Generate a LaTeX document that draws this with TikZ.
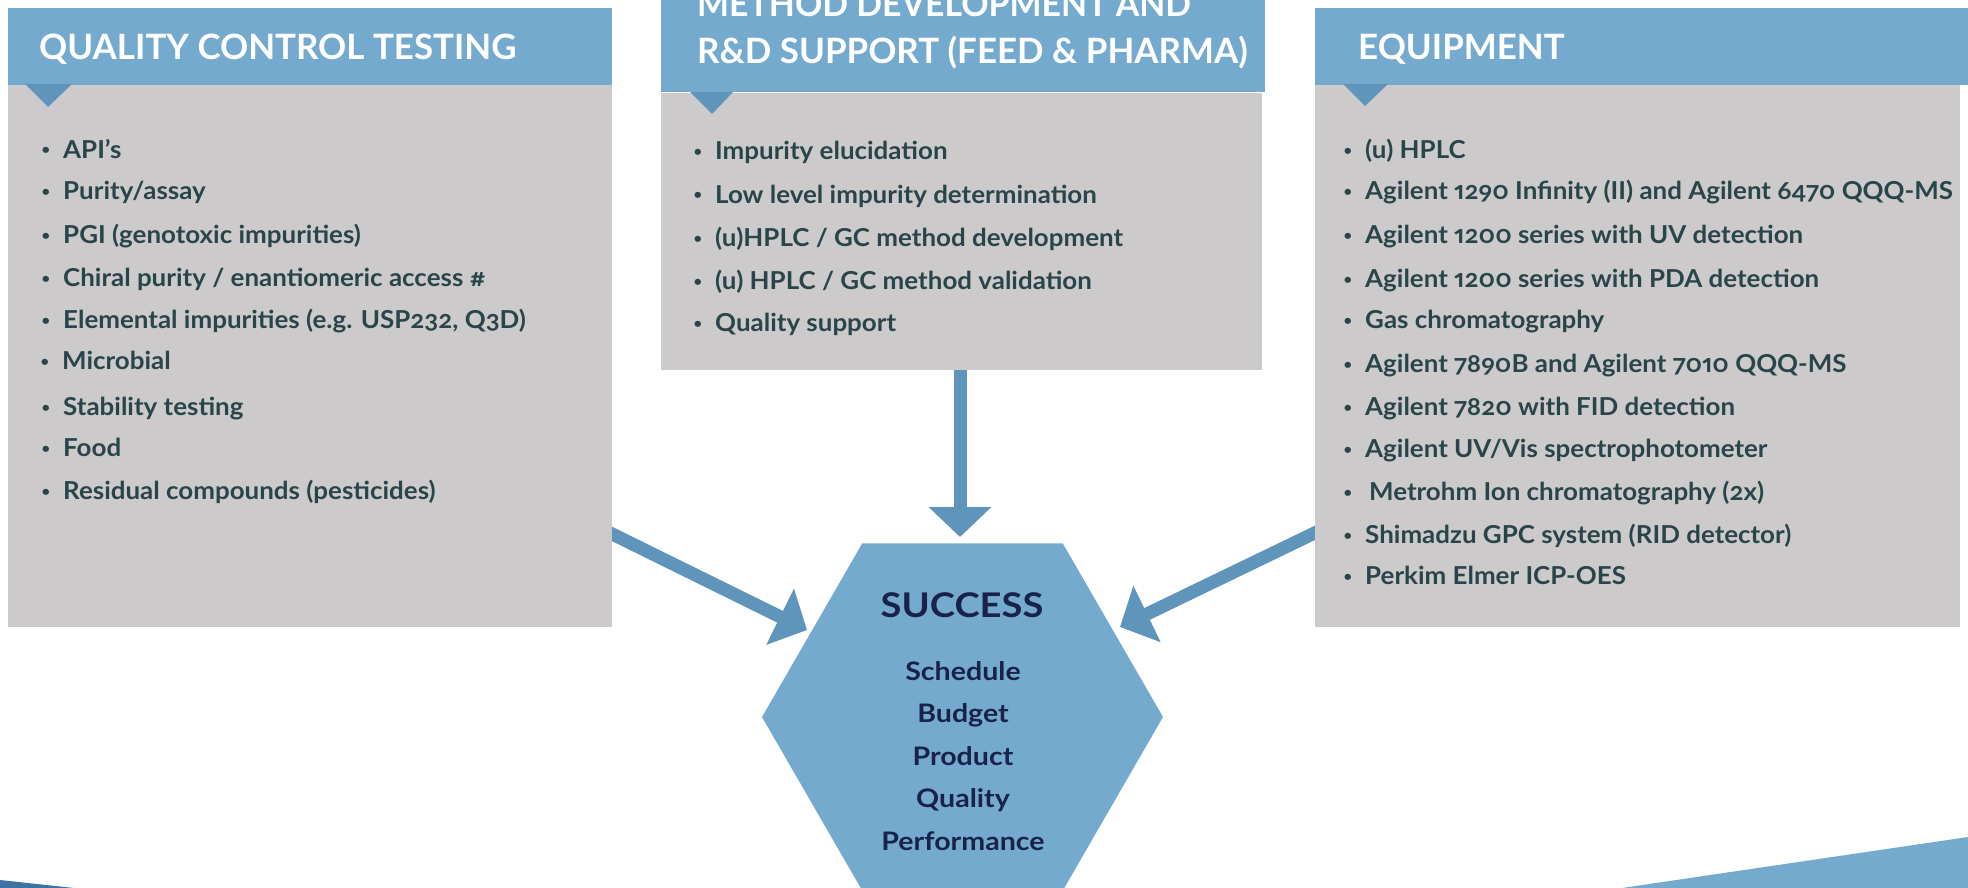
\documentclass[tikz,border=0pt]{standalone}
\usepackage{fontspec}
\setmainfont{Lato}
\newfontfamily\listfont{Lato}[FakeStretch=1.05,Numbers={OldStyle,Proportional}]
\newfontfamily\hexfont{Lato}[FakeStretch=1.12]
\usetikzlibrary{arrows.meta,shapes.geometric}
\definecolor{headblue}{HTML}{75AACF}
\definecolor{arrowblue}{HTML}{5F95BA}
\definecolor{boxgray}{HTML}{CCCACB}
\definecolor{listtext}{HTML}{2A4549}
\definecolor{navytext}{HTML}{18224A}
\definecolor{wedgeblue}{HTML}{3D72A4}
\pgfdeclarelayer{bg}
\pgfsetlayers{bg,main}
\newcommand{\bul}{\llap{\raisebox{3pt}{\fontsize{14}{14}\selectfont •}\hspace{13pt}}}
\tikzset{
  graybox/.style={rectangle, fill=boxgray, inner sep=0, anchor=north west},
  headbox/.style={rectangle, fill=headblue, inner sep=0, anchor=north west},
  titletxt/.style={anchor=base west, inner sep=0, text=white},
  itemtxt/.style={anchor=base west, inner sep=0, text=listtext, font=\listfont\bfseries\fontsize{24.7}{28}\selectfont},
  hextxt/.style={anchor=base, inner sep=0, text=navytext, font=\hexfont\bfseries\fontsize{25.5}{28}\selectfont},
  hexa/.style={regular polygon, regular polygon sides=6, minimum size=401pt, inner sep=0, fill=headblue},
  bigarrow/.style={line width=13pt, draw=arrowblue, -{Triangle[width=61pt,length=30pt]}},
  notch/.style={fill=arrowblue}
}
\begin{document}
\begin{tikzpicture}[x=1pt,y=-1pt]
\useasboundingbox (0,0) rectangle (1968,888);
% bottom decorations
\fill[wedgeblue] (0,880) -- (74,888) -- (0,888) -- cycle;
\fill[headblue] (1622,888) -- (1968,837) -- (1968,888) -- cycle;
% boxes
\node[graybox, minimum width=604pt, minimum height=542pt] (qc) at (8,85) {};
\node[headbox, minimum width=604pt, minimum height=77pt] (qchead) at (8,8) {};
\node[graybox, minimum width=601pt, minimum height=277pt] (md) at (661,93) {};
\node[headbox, minimum width=604pt, minimum height=119pt] (mdhead) at (661,-27) {};
\node[graybox, minimum width=645pt, minimum height=542pt] (eq) at (1315,85) {};
\node[headbox, minimum width=653pt, minimum height=77pt] (eqhead) at (1315,8) {};
% notches
\fill[notch] (25,84) -- (72,84) -- (48,107) -- cycle;
\fill[notch] (690,92) -- (733,92) -- (712,114) -- cycle;
\fill[notch] (1343,84) -- (1388,84) -- (1365,106) -- cycle;
% titles
\node[titletxt, font=\bfseries\fontsize{34.9}{40}\selectfont] (qctitle) at (39,60) {QUALITY CONTROL TESTING};
\node[titletxt, font=\bfseries\fontsize{34.9}{40}\selectfont] (mdtitle1) at (697,17) {\scalebox{0.97}[1]{METHOD DEVELOPMENT AND}};
\node[titletxt, font=\bfseries\fontsize{34.9}{40}\selectfont] (mdtitle2) at (697,64) {R\&D SUPPORT (FEED \& PHARMA)};
\node[titletxt, font=\bfseries\fontsize{34.9}{40}\selectfont] (eqtitle) at (1358,60) {EQUIPMENT};
% left list
\node[itemtxt] (qc1) at (63,158) {\bul API’s};
\node[itemtxt] (qc2) at (63,200) {\bul Purity/assay};
\node[itemtxt] (qc3) at (63,243) {\bul PGI (genotoxic impurities)};
\node[itemtxt] (qc4) at (63,286) {\bul Chiral purity / enantiomeric access \#};
\node[itemtxt] (qc5) at (63,328) {\bul Elemental impurities (e.g. USP232, Q3D)};
\node[itemtxt] (qc6) at (62,369) {\bul Microbial};
\node[itemtxt] (qc7) at (63,415) {\bul Stability testing};
\node[itemtxt] (qc8) at (63,456) {\bul Food};
\node[itemtxt] (qc9) at (63,499) {\bul Residual compounds (pesticides)};
% middle list
\node[itemtxt] (md1) at (715,160) {\bul Impurity elucidation};
\node[itemtxt] (md2) at (715,203) {\bul Low level impurity determination};
\node[itemtxt] (md3) at (715,246) {\bul (u)HPLC / GC method development};
\node[itemtxt] (md4) at (715,289) {\bul (u) HPLC / GC method validation};
\node[itemtxt] (md5) at (715,331) {\bul Quality support};
% right list
\node[itemtxt] (eq1) at (1365,159) {\bul (u) HPLC};
\node[itemtxt] (eq2) at (1365,200) {\bul Agilent 1290 Infinity (II) and Agilent 6470 QQQ-MS};
\node[itemtxt] (eq3) at (1365,243) {\bul Agilent 1200 series with UV detection};
\node[itemtxt] (eq4) at (1365,287) {\bul Agilent 1200 series with PDA detection};
\node[itemtxt] (eq5) at (1365,328) {\bul Gas chromatography};
\node[itemtxt] (eq6) at (1365,372) {\bul Agilent 7890B and Agilent 7010 QQQ-MS};
\node[itemtxt] (eq7) at (1365,415) {\bul Agilent 7820 with FID detection};
\node[itemtxt] (eq8) at (1365,457) {\bul Agilent UV/Vis spectrophotometer};
\node[itemtxt] (eq9) at (1369,500) {\hspace{-4pt}\bul\hspace{4pt}Metrohm Ion chromatography (2x)};
\node[itemtxt] (eq10) at (1365,543) {\bul Shimadzu GPC system (RID detector)};
\node[itemtxt] (eq11) at (1365,584) {\bul Perkim Elmer ICP-OES};
% hexagon
\node[hexa] (succ) at (962.5,717) {};
\node[hextxt, font=\hexfont\bfseries\fontsize{34}{40}\selectfont] (succtitle) at (962,617) {SUCCESS};
\node[hextxt] (s1) at (963,680) {Schedule};
\node[hextxt] (s2) at (963,722) {Budget};
\node[hextxt] (s3) at (963,765) {Product};
\node[hextxt] (s4) at (963,807) {Quality};
\node[hextxt] (s5) at (963,850) {Performance};
% arrows
\coordinate (qcout) at (600,528);
\coordinate (tipL) at (807,630);
\coordinate (eqout) at (1327,527);
\coordinate (tipR) at (1120,627);
\coordinate (mdout) at (960,365);
\coordinate (tipT) at (960,537);
\begin{pgfonlayer}{bg}
\draw[bigarrow] (qcout) -- (tipL);
\draw[bigarrow] (eqout) -- (tipR);
\draw[bigarrow] (mdout) -- (tipT);
\end{pgfonlayer}
\end{tikzpicture}
\end{document}
